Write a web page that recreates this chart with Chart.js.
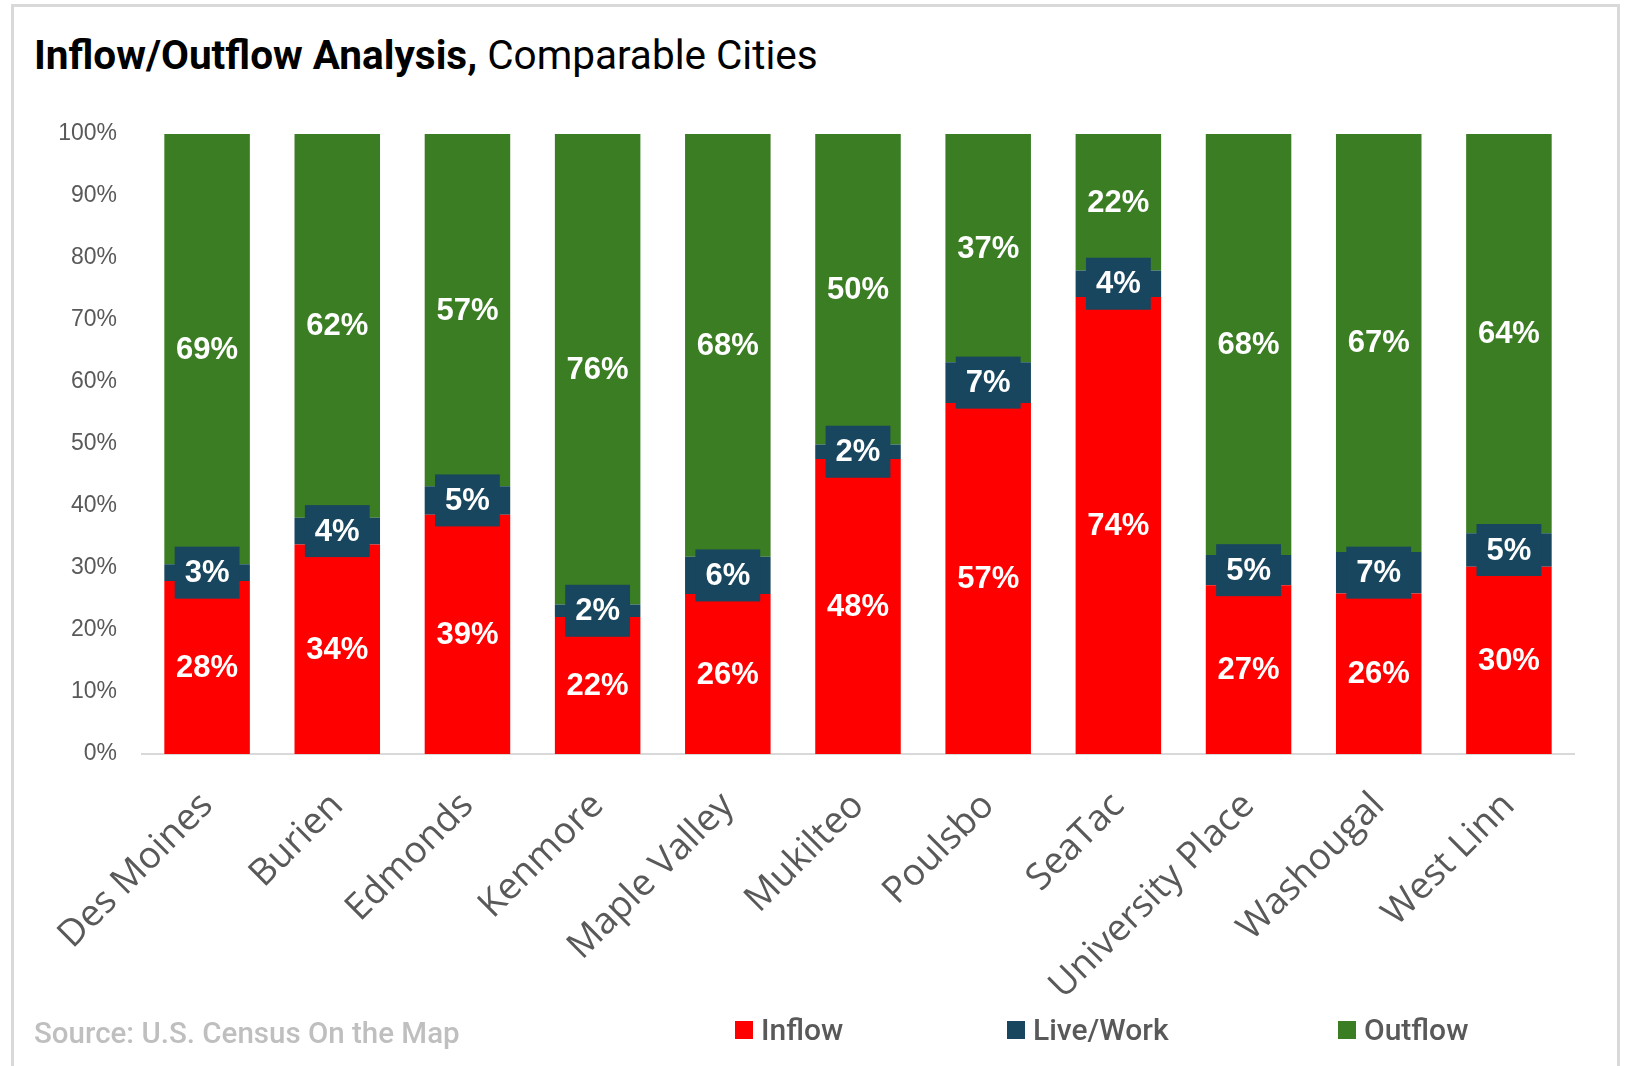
<!DOCTYPE html>
<html>
<head>
<meta charset="utf-8">
<script src="https://cdn.jsdelivr.net/npm/chart.js@4/dist/chart.umd.min.js"></script>
<style>
  html, body { margin: 0; padding: 0; background: #fff; }
  body { width: 1632px; height: 1066px; position: relative; overflow: hidden; }
  .frame {
    position: absolute; left: 11px; top: 4px; width: 1609px; height: 1100px;
    border: 3px solid #d9d9d9; box-sizing: border-box;
  }
  .title {
    position: absolute; left: 34px; top: 31px;
    font-family: Roboto, sans-serif; font-size: 40.5px; color: #000;
    white-space: nowrap;
  }
  .title b { font-weight: 700; }
  .source {
    position: absolute; left: 34px; top: 1016px;
    font-family: Roboto, sans-serif; font-size: 29.5px; font-weight: 500; color: #bfbfbf;
  }
  .legend {
    position: absolute; top: 1012px; left: 0;
    font-family: Roboto, sans-serif; font-size: 30px; font-weight: 500; color: #595959;
  }
  .legend span { position: absolute; white-space: nowrap; display: flex; align-items: center; }
  .legend i { display: inline-block; width: 18px; height: 18px; margin-right: 8px; }
  #wrap { position: absolute; left: 0; top: 0; width: 1632px; height: 1066px; }
</style>
</head>
<body>
<div class="frame"></div>
<div class="title"><b>Inflow/Outflow Analysis,</b> Comparable Cities</div>
<div id="wrap"><canvas id="chart"></canvas></div>
<div class="source">Source: U.S. Census On the Map</div>
<div class="legend">
  <span style="left:735px"><i style="background:#ff0000"></i>Inflow</span>
  <span style="left:1007px"><i style="background:#17465e"></i>Live/Work</span>
  <span style="left:1338px"><i style="background:#3b7d23"></i>Outflow</span>
</div>
<script>
const cities = ['Des Moines', 'Burien', 'Edmonds', 'Kenmore', 'Maple Valley', 'Mukilteo',
  'Poulsbo', 'SeaTac', 'University Place', 'Washougal', 'West Linn'];
// shares in percent (labels show them rounded)
const inflow = [27.9, 33.8, 38.6, 22.1, 25.8, 47.6, 56.6, 73.7, 27.2, 25.9, 30.2];
const liveWork = [2.7, 4.3, 4.6, 2.0, 6.0, 2.3, 6.6, 4.3, 4.9, 6.7, 5.4];
const outflow = [69.4, 61.9, 56.8, 75.9, 68.2, 50.1, 36.8, 22.0, 67.9, 67.4, 64.4];
const yTicks = [0, 10, 20, 30, 40, 50, 60, 70, 80, 90, 100];

const RED = '#ff0000';
const NAVY = '#17465e';
const GREEN = '#3b7d23';

// white percentage labels centred on each segment, live/work ones on a navy box
const segmentLabels = {
  id: 'segmentLabels',
  afterDatasetsDraw(chart) {
    const ctx = chart.ctx;
    ctx.save();
    ctx.font = 'bold 31px "Liberation Sans", Arial, sans-serif';
    ctx.textAlign = 'center';
    ctx.textBaseline = 'middle';
    chart.data.datasets.forEach((ds, i) => {
      chart.getDatasetMeta(i).data.forEach((bar, j) => {
        const text = Math.round(ds.data[j]) + '%';
        const cy = (bar.y + bar.base) / 2;
        if (ds.boxed) {
          const w = ctx.measureText(text).width + 20;
          const h = 52;
          ctx.fillStyle = NAVY;
          ctx.fillRect(bar.x - w / 2, cy - h / 2, w, h);
        }
        ctx.fillStyle = '#fff';
        ctx.fillText(text, bar.x, cy + 1);
      });
    });
    ctx.restore();
  }
};

new Chart(document.getElementById('chart'), {
  type: 'bar',
  data: {
    labels: cities,
    datasets: [
      { label: 'Inflow', data: inflow, backgroundColor: RED },
      { label: 'Live/Work', data: liveWork, backgroundColor: NAVY, boxed: true },
      { label: 'Outflow', data: outflow, backgroundColor: GREEN }
    ]
  },
  options: {
    responsive: true,
    maintainAspectRatio: false,
    animation: false,
    barPercentage: 0.657,
    categoryPercentage: 1,
    layout: { padding: { top: 134, left: 12, right: 58, bottom: 62 } },
    plugins: {
      legend: { display: false },
      tooltip: { enabled: false }
    },
    scales: {
      x: {
        stacked: true,
        grid: { display: false },
        border: { color: '#d9d9d9', width: 2 },
        ticks: {
          color: '#595959',
          font: { family: '"Open Sans", sans-serif', size: 37 },
          maxRotation: 45,
          minRotation: 45,
          padding: 22
        },
        afterFit: s => { s.height = 250; }
      },
      y: {
        stacked: true,
        min: 0,
        max: 100,
        afterBuildTicks: s => { s.ticks = yTicks.map(v => ({ value: v })); },
        grid: { display: false, drawTicks: false },
        border: { display: false },
        ticks: {
          color: '#595959',
          font: { family: '"Liberation Sans", Arial, sans-serif', size: 23 },
          padding: 25,
          callback: v => v + '%'
        },
        afterFit: s => { s.width = 130; }
      }
    }
  },
  plugins: [segmentLabels]
});
</script>
</body>
</html>
